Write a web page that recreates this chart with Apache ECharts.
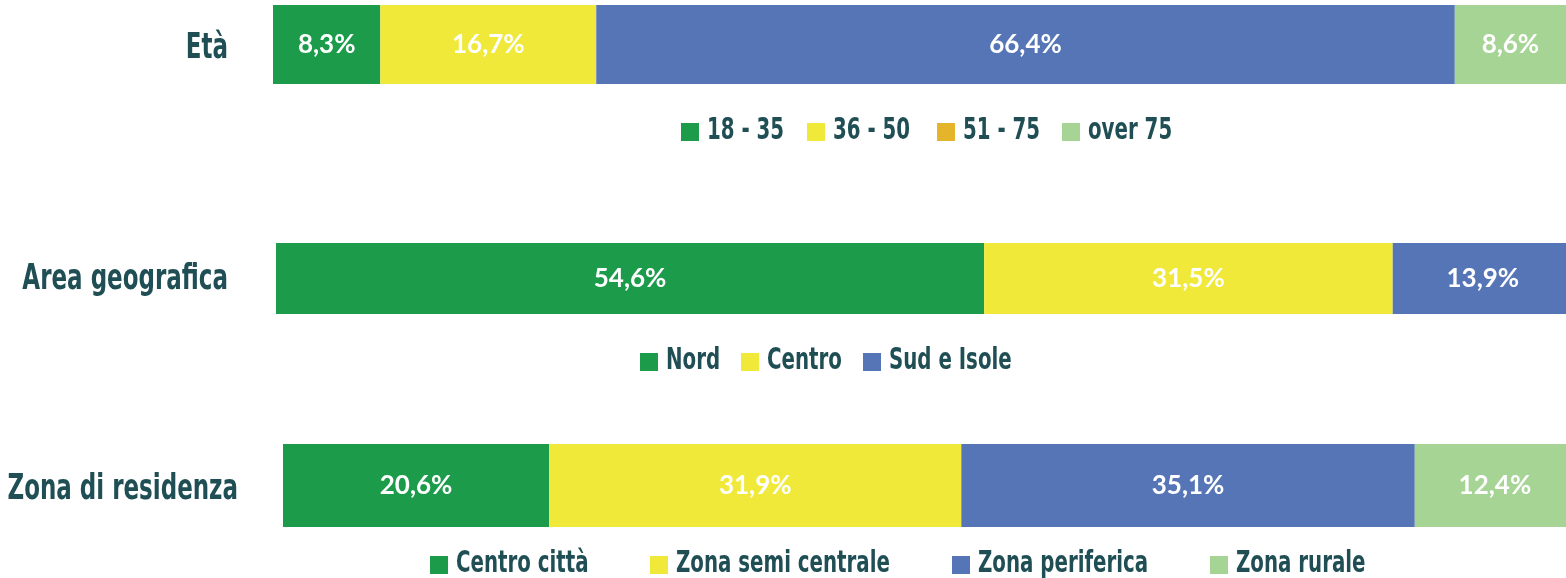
<!DOCTYPE html>
<html>
<head>
<meta charset="utf-8">
<script src="https://cdn.jsdelivr.net/npm/echarts@6/dist/echarts.min.js"></script>
<style>
  html, body { margin: 0; padding: 0; background: #fff; }
  #chart { width: 1566px; height: 578px; }
</style>
</head>
<body>
<div id="chart"></div>
<script>
// data
var groupLabels = ['Età', 'Area geografica', 'Zona di residenza'];

var etaCats = ['18 - 35', '36 - 50', '51 - 75', 'over 75'];
var etaValues = [8.3, 16.7, 66.4, 8.6];

var areaCats = ['Nord', 'Centro', 'Sud e Isole'];
var areaValues = [54.6, 31.5, 13.9];

var zonaCats = ['Centro città', 'Zona semi centrale', 'Zona periferica', 'Zona rurale'];
var zonaValues = [20.6, 31.9, 35.1, 12.4];

var GREEN = '#1C9C4B', YELLOW = '#F0E93A', BLUE = '#5575B7', LIGHT = '#A6D494', ORANGE = '#E4B52A';
var TEXT = '#1F4F55';
// no condensed display font around, so squeeze DejaVu Sans Condensed horizontally
var LABEL_FONT = '"DejaVu Sans Condensed", "DejaVu Sans", sans-serif';
var SQUEEZE = 0.71;

// the two lower bars run a few px past the right edge in the original
var groups = [
  { cats: etaCats, values: etaValues, colors: [GREEN, YELLOW, BLUE, LIGHT],
    legendColors: [GREEN, YELLOW, ORANGE, LIGHT],   // legend in the original shows 51-75 in orange
    grid: { left: 273, right: 0, top: 5, height: 79 },
    label: { x: 228, y: 49 },
    legend: { y: 131, xs: [681, 807, 937, 1062] } },
  { cats: areaCats, values: areaValues, colors: [GREEN, YELLOW, BLUE],
    legendColors: [GREEN, YELLOW, BLUE],
    grid: { left: 276, right: -7, top: 243, height: 71 },
    label: { x: 228, y: 280 },
    legend: { y: 361, xs: [640, 741, 863] } },
  { cats: zonaCats, values: zonaValues, colors: [GREEN, YELLOW, BLUE, LIGHT],
    legendColors: [GREEN, YELLOW, BLUE, LIGHT],
    grid: { left: 283, right: -9, top: 444, height: 83 },
    label: { x: 238, y: 490 },
    legend: { y: 564, xs: [430, 650, 952, 1210] } }
];

function fmt(v) {
  return v.toFixed(1).replace('.', ',') + '%';
}

var grids = [], xAxes = [], yAxes = [], series = [], graphics = [];

groups.forEach(function (g, gi) {
  grids.push({ left: g.grid.left, right: g.grid.right, top: g.grid.top, height: g.grid.height,
    containLabel: false, outerBoundsMode: 'none' });
  xAxes.push({ type: 'value', gridIndex: gi, min: 0, max: 100, show: false });
  yAxes.push({ type: 'category', gridIndex: gi, data: [groupLabels[gi]], show: false });

  // row title
  graphics.push({
    type: 'text', x: g.label.x, y: g.label.y, scaleX: SQUEEZE, silent: true,
    style: {
      text: groupLabels[gi], fill: TEXT, font: 'bold 36px ' + LABEL_FONT,
      align: 'right', verticalAlign: 'middle', textAlign: 'right', textVerticalAlign: 'middle'
    }
  });

  // legend row
  g.cats.forEach(function (c, i) {
    var x = g.legend.xs[i];
    graphics.push({
      type: 'rect', silent: true,
      shape: { x: x, y: g.legend.y - 8, width: 18, height: 18 },
      style: { fill: g.legendColors[i] }
    });
    graphics.push({
      type: 'text', x: x + 26, y: g.legend.y, scaleX: SQUEEZE, silent: true,
      style: {
        text: c, fill: TEXT, font: 'bold 31px ' + LABEL_FONT,
        align: 'left', verticalAlign: 'middle', textAlign: 'left', textVerticalAlign: 'middle'
      }
    });
  });

  g.cats.forEach(function (c, i) {
    series.push({
      name: c, type: 'bar', stack: 'g' + gi,
      xAxisIndex: gi, yAxisIndex: gi,
      barWidth: '100%',
      data: [g.values[i]],
      itemStyle: { color: g.colors[i] },
      label: {
        show: true, position: 'inside', color: '#fff',
        fontFamily: 'Lato, sans-serif', fontWeight: 'bold', fontSize: 26,
        formatter: function (p) { return fmt(p.value); }
      }
    });
  });
});

var chart = echarts.init(document.getElementById('chart'));
chart.setOption({
  animation: false,
  grid: grids,
  xAxis: xAxes,
  yAxis: yAxes,
  series: series,
  graphic: graphics
});
</script>
</body>
</html>
